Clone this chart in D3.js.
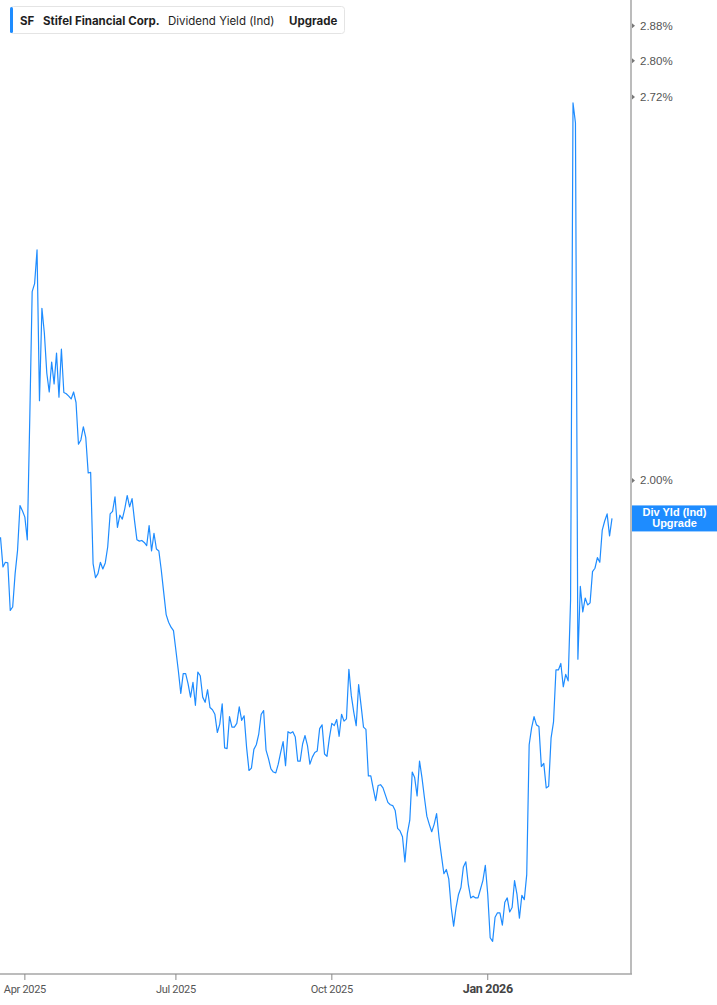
<!DOCTYPE html>
<html>
<head>
<meta charset="utf-8">
<script src="https://cdn.jsdelivr.net/npm/d3@7"></script>
<style>
  body { margin: 0; background: #fff; }
  svg { display: block; }
</style>
</head>
<body>
<svg></svg>
<script>
// dividend yield (%) per trading day, 2025-03-18 .. 2026-03-18
const yieldValues = [
  1.911, 1.866, 1.873, 1.872, 1.802, 1.807, 1.856, 1.891, 1.960, 1.952,
  1.942, 1.907, 2.099, 2.327, 2.342, 2.406, 2.132, 2.296, 2.251, 2.180,
  2.147, 2.199, 2.161, 2.215, 2.138, 2.222, 2.146, 2.144, 2.140, 2.135,
  2.147, 2.129, 2.059, 2.066, 2.088, 2.070, 2.012, 2.013, 1.871, 1.850,
  1.856, 1.873, 1.863, 1.872, 1.896, 1.947, 1.951, 1.974, 1.926, 1.945,
  1.939, 1.955, 1.976, 1.958, 1.971, 1.937, 1.907, 1.905, 1.906, 1.903,
  1.898, 1.929, 1.890, 1.917, 1.893, 1.890, 1.861, 1.828, 1.796, 1.785,
  1.778, 1.773, 1.745, 1.717, 1.686, 1.713, 1.713, 1.699, 1.681, 1.701,
  1.670, 1.715, 1.710, 1.681, 1.674, 1.691, 1.667, 1.664, 1.658, 1.634,
  1.645, 1.672, 1.614, 1.613, 1.655, 1.641, 1.641, 1.646, 1.668, 1.650,
  1.656, 1.615, 1.585, 1.588, 1.612, 1.618, 1.632, 1.658, 1.663, 1.611,
  1.600, 1.587, 1.583, 1.582, 1.593, 1.608, 1.622, 1.591, 1.635, 1.633,
  1.635, 1.628, 1.597, 1.597, 1.619, 1.630, 1.617, 1.593, 1.602, 1.608,
  1.610, 1.639, 1.644, 1.606, 1.603, 1.627, 1.646, 1.643, 1.651, 1.629,
  1.658, 1.649, 1.652, 1.719, 1.683, 1.661, 1.643, 1.698, 1.670, 1.641,
  1.638, 1.578, 1.578, 1.562, 1.547, 1.566, 1.567, 1.563, 1.554, 1.545,
  1.542, 1.541, 1.535, 1.513, 1.510, 1.503, 1.473, 1.507, 1.523, 1.583,
  1.576, 1.553, 1.597, 1.576, 1.551, 1.528, 1.518, 1.509, 1.518, 1.531,
  1.502, 1.480, 1.459, 1.464, 1.453, 1.420, 1.399, 1.420, 1.435, 1.443,
  1.467, 1.473, 1.447, 1.431, 1.433, 1.431, 1.431, 1.441, 1.451, 1.469,
  1.435, 1.386, 1.382, 1.409, 1.414, 1.414, 1.400, 1.426, 1.431, 1.415,
  1.420, 1.451, 1.435, 1.408, 1.434, 1.429, 1.458, 1.618, 1.640, 1.655,
  1.644, 1.642, 1.590, 1.594, 1.563, 1.565, 1.627, 1.648, 1.718, 1.718,
  1.727, 1.695, 1.712, 1.703, 1.817, 2.707, 2.664, 1.733, 1.837, 1.800,
  1.820, 1.810, 1.813, 1.859, 1.864, 1.880, 1.873, 1.922, 1.936, 1.947,
  1.913, 1.940
];

const startDate = "2025-03-18";
const marketHolidays = [
  "2025-04-18", "2025-05-26", "2025-06-19", "2025-07-04", "2025-09-01",
  "2025-11-27", "2025-12-25", "2026-01-01", "2026-01-19", "2026-02-16"
];
const tickMonths = [3, 6, 9, 0]; // Apr, Jul, Oct, Jan
const yTickValues = [2.0, 2.72, 2.8, 2.88];

const legendItems = [
  { text: "SF", x: 20, weight: 700 },
  { text: "Stifel Financial Corp.", x: 43, weight: 700 },
  { text: "Dividend Yield (Ind)", x: 168, weight: 400 },
  { text: "Upgrade", x: 289, weight: 700 }
];
const tagLines = ["Div Yld (Ind)", "Upgrade"];

const width = 717;
const height = 1005;
const plotW = 631;
const plotH = 974;
const blue = "#1e8cff";

// trading calendar
const parse = d3.timeParse("%Y-%m-%d");
const fmtKey = d3.timeFormat("%Y-%m-%d");
const dates = [];
let day = parse(startDate);
while (dates.length < yieldValues.length) {
  const wd = day.getDay();
  if (wd !== 0 && wd !== 6 && !marketHolidays.includes(fmtKey(day))) dates.push(day);
  day = d3.timeDay.offset(day, 1);
}
const data = yieldValues.map((v, i) => ({ i, date: dates[i], value: v }));

const svg = d3.select("svg").attr("width", width).attr("height", height);

const render = (data) => {
  const xScale = d3.scaleLinear().domain([-0.205, 258.8]).range([0, plotW]);
  const yScale = d3.scaleLog().domain([1.3463, 2.94]).range([plotH, 0]);

  // axis frame
  svg.append("line")
    .attr("x1", 0).attr("x2", plotW + 1)
    .attr("y1", plotH).attr("y2", plotH)
    .attr("stroke", "#a6a6a6").attr("stroke-width", 1.5);
  svg.append("line")
    .attr("x1", plotW).attr("x2", plotW)
    .attr("y1", 0).attr("y2", plotH)
    .attr("stroke", "#a6a6a6").attr("stroke-width", 1.5);

  // month ticks at the first trading day of each quarter
  const xTicks = data.filter((d, k) =>
    k > 0 && tickMonths.includes(d.date.getMonth()) &&
    d.date.getMonth() !== data[k - 1].date.getMonth());

  const xAxisG = svg.append("g");
  xAxisG.selectAll("line").data(xTicks).enter().append("line")
    .attr("x1", (d) => xScale(d.i)).attr("x2", (d) => xScale(d.i))
    .attr("y1", plotH).attr("y2", plotH + 6)
    .attr("stroke", "#8a8a8a");
  xAxisG.selectAll("text").data(xTicks).enter().append("text")
    .attr("x", (d) => xScale(d.i))
    .attr("y", plotH + 19)
    .attr("text-anchor", "middle")
    .attr("font-family", "Roboto, sans-serif")
    .attr("font-size", (d) => (d.date.getMonth() === 0 ? 12.5 : 11))
    .attr("font-weight", (d) => (d.date.getMonth() === 0 ? 700 : 400))
    .attr("letter-spacing", -0.3)
    .attr("fill", (d) => (d.date.getMonth() === 0 ? "#444" : "#555"))
    .text((d) => d3.timeFormat("%b %Y")(d.date));

  // right axis
  const yAxisG = svg.append("g");
  yAxisG.selectAll("path").data(yTickValues).enter().append("path")
    .attr("d", (d) => `M${plotW + 1},${yScale(d) - 2.5}L${plotW + 4},${yScale(d)}L${plotW + 1},${yScale(d) + 2.5}Z`)
    .attr("fill", "#777");
  yAxisG.selectAll("text").data(yTickValues).enter().append("text")
    .attr("x", plotW + 9)
    .attr("y", (d) => yScale(d))
    .attr("dy", "0.35em")
    .attr("font-family", "Liberation Sans, Arial, sans-serif")
    .attr("font-size", 11.5)
    .attr("fill", "#555")
    .text((d) => d3.format(".2f")(d) + "%");

  // series line
  const line = d3.line()
    .x((d) => xScale(d.i))
    .y((d) => yScale(d.value));
  svg.append("path")
    .datum(data)
    .attr("d", line)
    .attr("fill", "none")
    .attr("stroke", blue)
    .attr("stroke-width", 1.2)
    .attr("stroke-linejoin", "round");

  // last value tag
  const last = data[data.length - 1];
  const tag = svg.append("g")
    .attr("transform", `translate(${plotW + 1},${yScale(last.value) - 13})`);
  tag.append("rect")
    .attr("width", width - plotW - 1).attr("height", 26)
    .attr("fill", blue);
  tag.selectAll("text").data(tagLines).enter().append("text")
    .attr("x", (width - plotW - 1) / 2)
    .attr("y", (d, k) => 11 + k * 11)
    .attr("text-anchor", "middle")
    .attr("font-family", "Liberation Sans, Arial, sans-serif")
    .attr("font-size", 11)
    .attr("font-weight", 700)
    .attr("fill", "#fff")
    .text((d) => d);

  // legend box
  const legend = svg.append("g");
  legend.append("rect")
    .attr("x", 10.5).attr("y", 6.5).attr("width", 334).attr("height", 27)
    .attr("rx", 3)
    .attr("fill", "#fff").attr("stroke", "#e4e4e4");
  legend.append("rect")
    .attr("x", 10).attr("y", 7).attr("width", 3).attr("height", 26)
    .attr("rx", 1.5)
    .attr("fill", blue);
  legend.selectAll("text").data(legendItems).enter().append("text")
    .attr("x", (d) => d.x)
    .attr("y", 24.5)
    .attr("font-family", "Inter, sans-serif")
    .attr("font-size", 11.5)
    .attr("font-weight", (d) => d.weight)
    .attr("fill", "#1f1f1f")
    .text((d) => d.text);
};

render(data);
</script>
</body>
</html>
